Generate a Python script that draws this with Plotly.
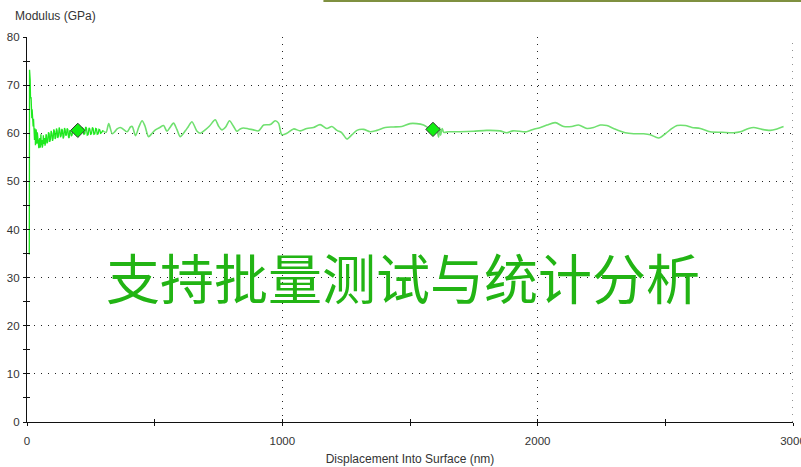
import plotly.graph_objects as go

# ---- data ----
x_noisy = [9, 10, 11, 12.5, 13.7, 15, 16, 17.6, 18.9, 20, 21.5, 23, 24.1, 25.5, 26.7, 28, 29.4, 30.5, 31.9, 33,
           34.6, 36, 37.2, 39, 40.5, 42.4, 44, 46.3, 48, 50.2, 51.5, 52.8, 54.5, 56, 58.1, 60, 62, 64, 66, 68.5,
           70.5, 72.4, 74.5, 76.3, 78.5, 81.6, 84, 86.8, 89, 92, 94.5, 97.2, 100, 102.5, 105, 107.7, 110, 112.9,
           115.5, 118.1, 120.5, 123.3, 126, 128.5, 131, 133.8, 136.5, 139, 141.5, 144.2, 147, 149.4, 152, 154.7,
           157, 159.9, 162.5, 165.1, 167.5, 170.3, 173.5, 176.8, 180, 183.4, 186.5, 189.9, 194, 199, 203, 206.8,
           210, 213.4, 216.5, 219.9, 223, 226.4, 229.5, 232.9, 236, 239.5, 243, 246, 249, 252.5, 256, 259, 262,
           265.6, 269, 272.1, 275, 278.6, 282, 285.1, 288, 291.7, 296, 300.8]
y_noisy = [34.8, 73.2, 69.7, 71, 67.3, 66.2, 67.5, 64.9, 63.1, 65, 63.8, 62.5, 61.4, 63, 62.1, 60.5, 58.6, 61, 60.7, 57.5,
           58.3, 60.8, 59.7, 57.8, 60.2, 58.0, 59.5, 56.9, 58.5, 59.0, 57.0, 57.3, 59.8, 57.5, 58.6, 57.0, 57.6, 59.6, 57.8, 59.0,
           57.4, 58.0, 59.8, 59.5, 57.9, 58.3, 60.2, 59.9, 58.2, 58.8, 60.5, 60.0, 58.4, 59.0, 60.8, 60.4, 58.8, 59.2,
           61.0, 60.5, 59.0, 59.5, 61.2, 60.7, 59.2, 59.5, 60.9, 60.6, 58.9, 59.3, 61.1, 60.7, 59.5, 59.7,
           61.0, 60.8, 59.2, 59.0, 60.6, 60.4, 59.4, 59.7, 61.0, 60.7, 59.8, 60.1, 60.9, 60.6, 60.2, 61.1,
           60.3, 60.1, 61.2, 60.9, 59.8, 59.9, 61.3, 61.1, 59.6, 59.7, 61.1, 60.9, 59.8, 59.9, 61.2, 61.0, 59.8,
           59.9, 61.0, 60.9, 59.8, 59.9, 60.8, 60.7, 60.0, 60.1, 60.5, 60.4]

x_smooth = [300, 310, 320, 334, 345, 353, 365, 373, 392, 405, 412, 425, 438, 451, 462, 476, 490, 503, 520, 535,
            548, 560, 574, 587, 600, 620, 632, 646, 666, 679, 698, 715, 737, 750, 763, 778, 793, 808, 822, 835,
            848, 868, 887, 907, 927, 953, 972, 985, 998, 1018, 1044, 1070, 1096, 1122, 1148, 1174, 1194, 1214,
            1233, 1253, 1273, 1292, 1318, 1344, 1370, 1403, 1435, 1468, 1500, 1526, 1553, 1579, 1590, 1605, 1612,
            1616, 1620, 1626, 1632, 1650, 1695, 1748, 1800, 1852, 1878, 1904, 1956, 1982, 2011, 2036, 2069, 2102,
            2134, 2160, 2193, 2219, 2245, 2271, 2297, 2343, 2376, 2415, 2441, 2474, 2500, 2526, 2546, 2578, 2604,
            2637, 2676, 2722, 2768, 2794, 2826, 2846, 2879, 2911, 2937, 2963]
y_smooth = [60.4, 60.2, 62.0, 59.9, 60.4, 60.9, 61.2, 61.0, 60.3, 61.3, 61.4, 59.5, 61.3, 62.6, 61.5, 59.3, 60.0, 60.7, 61.2, 61.6,
            60.4, 61.2, 62.1, 60.8, 59.3, 60.5, 61.4, 62.4, 60.4, 60.0, 60.7, 61.5, 62.8, 61.5, 60.7, 61.3, 62.6, 61.5, 60.4, 60.9,
            61.1, 60.9, 60.7, 60.5, 61.7, 61.8, 62.6, 62.1, 59.7, 60.0, 60.9, 60.5, 61.0, 61.2, 61.8, 61.0, 61.4, 60.6,
            60.1, 58.8, 59.7, 60.6, 60.8, 60.3, 60.6, 61.2, 61.3, 61.4, 62.0, 62.0, 61.7, 60.9, 60.8, 60.6, 59.2,
            61.2, 59.6, 61.0, 60.2, 60.3, 60.3, 60.4, 60.6, 60.5, 60.1, 60.5, 60.3, 60.8, 61.2, 61.7, 62.2, 61.4,
            61.4, 61.7, 61.0, 61.2, 61.7, 61.6, 61.0, 60.1, 59.9, 59.9, 59.7, 59.0, 59.9, 61.0, 61.6, 61.6, 61.2,
            61.0, 60.3, 60.2, 60.1, 60.3, 61.0, 61.2, 60.8, 60.6, 60.9, 61.4]

marker_x = [199, 1590]
marker_y = [60.6, 60.8]

x_ticks = [0, 1000, 2000, 3000]
y_ticks = [0, 10, 20, 30, 40, 50, 60, 70, 80]

y_title = "Modulus (GPa)"
x_title = "Displacement Into Surface (nm)"
overlay_text = "支持批量测试与统计分析"

# ---- figure ----
W, H = 801, 467
ml, mr, mt, mb = 26.5, 8.3, 37.2, 45
pw, ph = W - ml - mr, H - mt - mb
FONT = "Liberation Sans, Arial, sans-serif"

fig = go.Figure()
fig.add_trace(go.Scatter(x=x_noisy, y=y_noisy, mode="lines",
                         line=dict(color="#1ee81e", width=1.3), showlegend=False))
fig.add_trace(go.Scatter(x=x_smooth, y=y_smooth, mode="lines",
                         line=dict(color="#70e070", width=1.6, shape="spline", smoothing=0.8),
                         showlegend=False))
fig.add_trace(go.Scatter(x=marker_x, y=marker_y, mode="markers",
                         marker=dict(symbol="diamond", size=11, color="#12ee12",
                                     line=dict(color="#333333", width=1)),
                         showlegend=False))
# helper trace so the overlay axes (inner half of the crossing ticks) are drawn
fig.add_trace(go.Scatter(x=[], y=[], xaxis="x2", yaxis="y2", showlegend=False))

tickfont = dict(family=FONT, size=11.5, color="#333333")
grid = dict(showgrid=True, gridcolor="#222222", gridwidth=1, griddash="1px,6px")

fig.update_layout(
    width=W, height=H, autosize=False,
    margin=dict(l=ml, r=mr, t=mt, b=mb, pad=0),
    paper_bgcolor="white", plot_bgcolor="white",
    xaxis=dict(range=[0, 3000], tickvals=x_ticks, ticks="outside", ticklen=3, tickcolor="#111",
               showline=True, linecolor="#111", linewidth=1.2, zeroline=False, automargin=False,
               ticklabeloverflow="allow",
               minor=dict(ticks="outside", ticklen=3, dtick=500, tick0=0, tickcolor="#111", showgrid=False),
               tickfont=tickfont, ticklabelstandoff=5,
               title=dict(text=x_title, font=dict(family=FONT, size=12, color="#333333"), standoff=8),
               **grid),
    yaxis=dict(range=[0, 80], tickvals=y_ticks, ticks="outside", ticklen=3, tickcolor="#111",
               showline=True, linecolor="#111", linewidth=1.2, zeroline=False, automargin=False,
               ticklabeloverflow="allow",
               minor=dict(ticks="outside", ticklen=3, dtick=5, tick0=0, tickcolor="#111", showgrid=False),
               tickfont=tickfont, ticklabelstandoff=1,
               **grid),
    xaxis2=dict(range=[0, 3000], overlaying="x", anchor="y2", side="bottom", tickvals=x_ticks,
                ticks="inside", ticklen=3, tickcolor="#111", showticklabels=False, showgrid=False,
                showline=False, zeroline=False, automargin=False,
                minor=dict(ticks="inside", ticklen=3, dtick=500, tick0=0, tickcolor="#111", showgrid=False)),
    yaxis2=dict(range=[0, 80], overlaying="y", anchor="x2", side="left", tickvals=y_ticks,
                ticks="inside", ticklen=3, tickcolor="#111", showticklabels=False, showgrid=False,
                showline=False, zeroline=False, automargin=False,
                minor=dict(ticks="inside", ticklen=3, dtick=5, tick0=0, tickcolor="#111", showgrid=False)),
)

# dotted grid line at the right end of the x range
fig.add_shape(type="line", xref="x", yref="paper", x0=x_ticks[-1], x1=x_ticks[-1], y0=0, y1=1,
              line=dict(color="#222222", width=1, dash="1px,6px"), layer="below")

# y-axis label at the top-left
fig.add_annotation(text=y_title, xref="paper", yref="paper",
                   x=(12 - ml) / pw, y=(H - mb - 16) / ph, xanchor="left", yanchor="middle",
                   showarrow=False, font=dict(family=FONT, size=12, color="#333333"))

# big overlay text
fig.add_annotation(text=overlay_text, xref="paper", yref="paper",
                   x=(403 - ml) / pw, y=(H - mb - 277) / ph, xanchor="center", yanchor="middle",
                   showarrow=False, font=dict(family="Noto Sans CJK SC", size=54, color="#22b414"))

# olive line along the top edge
fig.add_shape(type="line", xref="paper", yref="paper",
              x0=(323 - ml) / pw, x1=(W + 2 - ml) / pw,
              y0=(H - mb - 1) / ph, y1=(H - mb - 1) / ph,
              line=dict(color="#7f9040", width=2.5))

fig.write_html("out.html")
